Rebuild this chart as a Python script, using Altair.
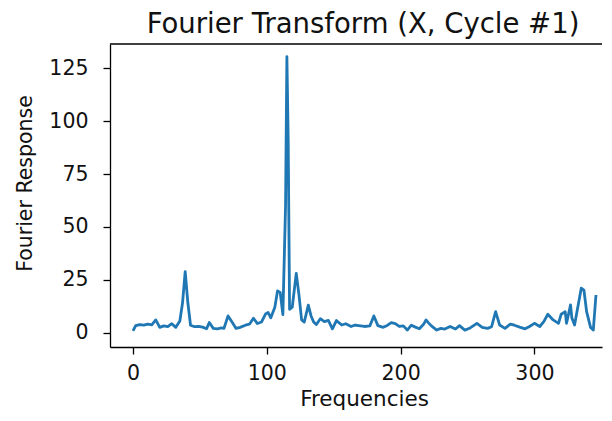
import altair as alt
import pandas as pd

freqs = [0, 2, 5, 8, 11, 14, 17, 20, 23, 26, 29, 32, 35, 37, 39, 41, 43, 46, 49, 52,
         55, 57, 60, 63, 66, 68, 71, 74, 77, 80, 84, 87, 90, 93, 96, 99, 101, 103, 106, 108,
         110, 112, 114, 115, 116, 117, 119, 122, 124, 126, 128, 131, 133, 135, 137, 140, 143, 146, 149, 152,
         156, 159, 163, 166, 170, 173, 177, 180, 183, 187, 190, 193, 196, 199, 202, 205, 208, 211, 214, 217,
         219, 221, 223, 227, 230, 233, 237, 241, 244, 248, 252, 257, 261, 265, 268, 271, 274, 278, 282, 285,
         289, 293, 296, 300, 304, 307, 310, 314, 318, 320, 323, 324, 327, 328, 330, 332, 335, 337, 339, 342,
         344, 346]
response = [0.8, 3.3, 3.8, 3.5, 4.0, 3.7, 6.0, 2.5, 3.2, 2.8, 4.2, 2.5, 5.5, 14, 28.8, 14, 3.5, 2.8, 3.0, 2.6,
            1.8, 4.8, 2.0, 1.8, 2.2, 2.0, 7.9, 5.0, 2.0, 2.5, 3.5, 4.0, 6.8, 4.3, 5.0, 8.8, 9.5, 7.0, 12, 19.7,
            19.0, 8.5, 60, 130.5, 90, 11, 12, 28, 18, 6, 5, 13, 8, 5, 3.8, 6.6, 5.2, 5.8, 1.8, 5.7,
            3.6, 4.2, 2.9, 3.6, 3.2, 2.9, 3.2, 7.9, 3.3, 2.5, 3.4, 4.7, 4.3, 2.9, 3.2, 1.2, 3.5, 2.6, 1.8, 3.8,
            6.0, 4.5, 3.2, 1.2, 2.0, 1.7, 2.9, 1.7, 3.3, 1.2, 2.2, 4.4, 2.5, 2.0, 2.8, 9.9, 3.6, 2.0, 4.0, 3.5,
            2.6, 1.8, 2.8, 4.4, 2.9, 5.2, 8.7, 6.0, 4.4, 8.7, 9.9, 4.4, 13.1, 6.9, 3.6, 10.6, 21, 20.1, 9.9, 2.4,
            1.2, 17.8]

x_ticks = [0, 100, 200, 300]
y_ticks = [0, 25, 50, 75, 100, 125]
title_text = "Fourier Transform (X, Cycle #1)"

df = pd.DataFrame({"Frequencies": freqs, "Fourier Response": response})

FONT = "DejaVu Sans"
W, H = 492, 303

line = alt.Chart(df).mark_line(color="#1f77b4", strokeWidth=2.8, strokeJoin="round").encode(
    x=alt.X("Frequencies:Q",
            scale=alt.Scale(domain=[-17.2, 350.5], nice=False, zero=False),
            axis=alt.Axis(values=x_ticks, title="Frequencies", grid=False,
                          titleFontSize=21.5, labelPadding=9,
                          titleX=254, titleY=52, titleBaseline="middle", titleAlign="center")),
    y=alt.Y("Fourier Response:Q",
            scale=alt.Scale(domain=[-6.8, 136.5], nice=False, zero=False),
            axis=alt.Axis(values=y_ticks, title="Fourier Response", grid=False,
                          titleFontSize=20.5, labelPadding=15,
                          titleX=-85, titleY=139, titleAngle=270,
                          titleBaseline="middle", titleAlign="center")),
)

top_border = alt.Chart(pd.DataFrame({"k": [0]})).mark_rule(color="black", strokeWidth=1.3).encode(
    x=alt.value(0), x2=alt.value(W), y=alt.value(0)
)

title = alt.Chart(pd.DataFrame({"t": [title_text]})).mark_text(
    font=FONT, fontSize=27.5, color="#111", align="center", baseline="alphabetic"
).encode(
    text="t:N", x=alt.value(W / 2 + 7), y=alt.value(-11)
)

chart = alt.layer(line, top_border, title).properties(
    width=W, height=H,
    autosize=alt.AutoSizeParams(type="none"),
    padding={"left": 102, "top": 36, "right": 2, "bottom": 66},
).configure_view(stroke=None).configure_axis(
    labelFont=FONT, titleFont=FONT, labelFontSize=20.5,
    titleFontWeight="normal", labelColor="#111", titleColor="#111",
    domainColor="black", domainWidth=1.3, tickColor="black", tickWidth=1.3,
    tickSize=7,
)

chart.save("out.html", embed_options={"renderer": "svg", "actions": False})
